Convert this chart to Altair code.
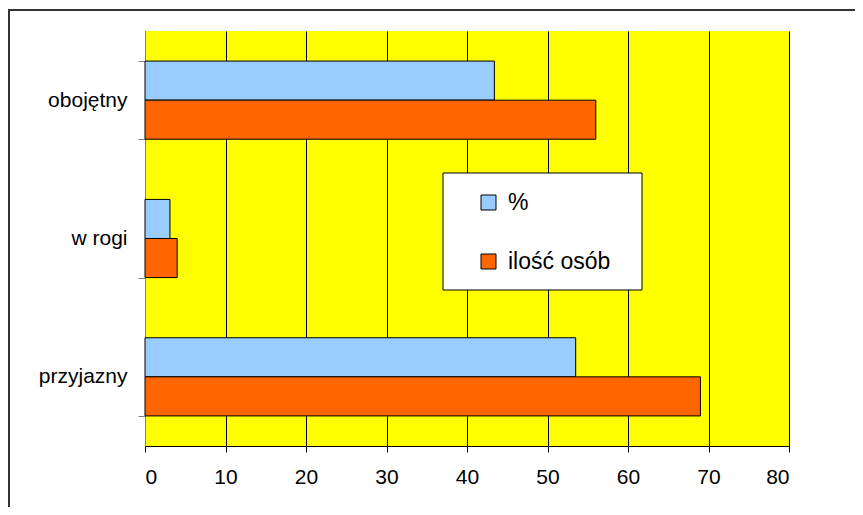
import altair as alt
import pandas as pd

categories = ["obojętny", "w rogi", "przyjazny"]
series = ["%", "ilość osób"]
pct_values = [43.4, 3.1, 53.5]
count_values = [56, 4, 69]
x_ticks = [0, 10, 20, 30, 40, 50, 60, 70, 80]
colors = ["#99CCFF", "#FF6600"]

rows = []
for c, p, n in zip(categories, pct_values, count_values):
    rows.append({"kategoria": c, "seria": series[0], "wartosc": p})
    rows.append({"kategoria": c, "seria": series[1], "wartosc": n})
df = pd.DataFrame(rows)

W, H = 644, 415

frame = alt.Chart(pd.DataFrame({"a": [0]})).mark_rect(
    fill=None, stroke="#333333", strokeWidth=2
).encode(
    x=alt.value(-136), x2=alt.value(1000), y=alt.value(-21), y2=alt.value(1000)
)

box = alt.Chart(pd.DataFrame({"a": [0]})).mark_rect(
    fill="white", stroke="black", strokeWidth=1
).encode(
    x=alt.value(298), x2=alt.value(497), y=alt.value(142), y2=alt.value(259)
)

bars = alt.Chart(df).mark_bar(stroke="black", strokeWidth=1).encode(
    y=alt.Y("kategoria:N", sort=categories, title=None,
            scale=alt.Scale(paddingInner=0.435, paddingOuter=0.2175),
            axis=alt.Axis(tickBand="extent", domainColor="#808080", tickColor="#808080",
                          tickSize=7, labelPadding=11, labelFontSize=21,
                          labelFont="Liberation Sans", labelColor="black", grid=False)),
    yOffset=alt.YOffset("seria:N", sort=series,
                        scale=alt.Scale(paddingInner=0, paddingOuter=0)),
    x=alt.X("wartosc:Q", title=None,
            scale=alt.Scale(domain=[0, 80], nice=False),
            axis=alt.Axis(values=x_ticks, grid=True, gridColor="black", gridWidth=1,
                          gridOpacity=1, domainColor="black", tickColor="black",
                          tickSize=6, labelPadding=14, labelFontSize=21,
                          labelFont="Liberation Sans", labelColor="black")),
    color=alt.Color("seria:N", sort=series,
                    scale=alt.Scale(domain=series, range=colors),
                    legend=alt.Legend(title=None, orient="none", legendX=332, legendY=160,
                                      symbolType="square", symbolSize=225,
                                      symbolStrokeColor="black", symbolStrokeWidth=1,
                                      labelFontSize=23, labelFont="Liberation Sans",
                                      labelColor="black", labelOffset=8, rowPadding=35,
                                      padding=0)),
)

chart = alt.layer(frame, box, bars).properties(
    width=W, height=H,
    background="white",
    padding={"left": 137, "top": 23, "right": 66, "bottom": 61},
    autosize=alt.AutoSizeParams(type="none"),
).configure_view(fill="#FFFF00", strokeWidth=0)

chart.save("out.html", embed_options={"renderer": "svg", "actions": False})
